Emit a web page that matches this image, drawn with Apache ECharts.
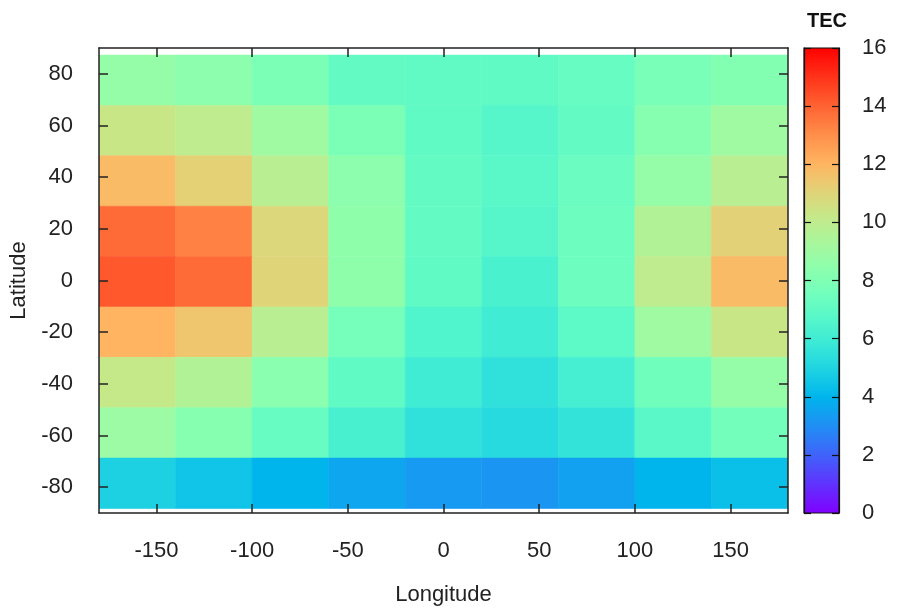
<!DOCTYPE html>
<html>
<head>
<meta charset="utf-8">
<script src="https://cdn.jsdelivr.net/npm/echarts@6/dist/echarts.min.js"></script>
<style>
    html, body { margin: 0; background: #fff; }
    #chart { width: 903px; height: 615px; }
</style>
</head>
<body>
<div id="chart"></div>
<script>
// cell centres in degrees, rows go north to south
const lons = [-160, -120, -80, -40, 0, 40, 80, 120, 160]
const lats = [77.5, 58, 38.5, 19, -0.5, -20, -39.5, -59, -78.5]
const tec = [
    [8.7, 8.4, 7.85, 7.1, 7.05, 7.0, 7.2, 7.8, 8.1],
    [10.3, 10.0, 9.0, 7.85, 7.0, 6.7, 7.1, 8.2, 9.0],
    [11.8, 11.15, 9.8, 8.4, 7.1, 6.8, 7.3, 8.7, 9.8],
    [13.8, 13.3, 10.9, 8.5, 7.1, 6.7, 7.4, 9.6, 11.1],
    [14.2, 13.8, 11.0, 8.5, 7.0, 6.3, 7.4, 10.0, 11.8],
    [12.0, 11.5, 9.8, 7.7, 6.5, 6.0, 6.9, 9.0, 10.3],
    [10.2, 9.6, 8.3, 7.0, 6.0, 5.5, 6.2, 7.5, 8.7],
    [8.9, 8.2, 7.2, 6.25, 5.5, 5.2, 5.6, 6.8, 7.6],
    [4.9, 4.5, 4.0, 3.6, 3.3, 3.2, 3.45, 4.0, 4.35]
]
const xTicks = [-150, -100, -50, 0, 50, 100, 150]
const yTicks = [-80, -60, -40, -20, 0, 20, 40, 60, 80]
const cbRange = [0, 16]

const cellW = 40
const cellH = 19.5
const font = 'Liberation Sans'
const ink = '#222'

// gnuplot rgbformulae 33,13,10
const palette = x => {
    let r = Math.min(1, Math.abs(2 * x - 0.5))
    let g = Math.max(0, Math.sin(Math.PI * x))
    let b = Math.max(0, Math.cos(Math.PI * x / 2))
    return 'rgb(' + [r, g, b].map(c => Math.round(c * 255)).join(',') + ')'
}
let steps = []
for (let i = 0; i <= 64; i++) steps.push(palette(i / 64))

let cells = []
lats.forEach((lat, i) => {
    lons.forEach((lon, j) => {
        cells.push([lon, lat, tec[i][j]])
    })
})

const frameAxis = {
    z: 5,
    axisLine: { show: true, onZero: false, lineStyle: { color: ink, width: 1.5 } },
    axisTick: { inside: true, length: 9, lineStyle: { color: ink, width: 1.5 } },
    splitLine: { show: false }
}
const barAxis = {
    z: 5,
    axisLine: { show: true, onZero: false, lineStyle: { color: '#111', width: 1.2 } },
    axisTick: { inside: true, length: 7, lineStyle: { color: '#111', width: 1.2 } },
    splitLine: { show: false }
}
const labelStyle = { color: ink, fontSize: 22, fontFamily: font }

let option = {
    backgroundColor: '#fff',
    animation: false,
    title: {
        text: 'TEC',
        left: 822,
        top: 6,
        textAlign: 'center',
        textStyle: { fontFamily: font, fontSize: 20, fontWeight: 'bold', color: '#111' }
    },
    grid: [
        { left: 99, top: 48, right: 115, bottom: 102 },
        { left: 804, top: 48, width: 35, height: 465 }
    ],
    xAxis: [
        Object.assign({}, frameAxis, {
            type: 'value', gridIndex: 0, min: -180, max: 180, position: 'bottom',
            name: 'Longitude', nameLocation: 'middle', nameGap: 71,
            nameTextStyle: labelStyle,
            axisTick: Object.assign({}, frameAxis.axisTick, { customValues: xTicks }),
            axisLabel: Object.assign({}, labelStyle, { margin: 27, customValues: xTicks })
        }),
        Object.assign({}, frameAxis, {
            type: 'value', gridIndex: 0, min: -180, max: 180, position: 'top',
            axisTick: Object.assign({}, frameAxis.axisTick, { customValues: xTicks }),
            axisLabel: { show: false }
        }),
        { type: 'value', gridIndex: 1, min: 0, max: 1, show: false }
    ],
    yAxis: [
        Object.assign({}, frameAxis, {
            type: 'value', gridIndex: 0, min: -90, max: 90, position: 'left',
            name: 'Latitude', nameLocation: 'middle', nameGap: 63,
            nameTextStyle: labelStyle,
            axisTick: Object.assign({}, frameAxis.axisTick, { customValues: yTicks }),
            axisLabel: Object.assign({}, labelStyle, { margin: 26, customValues: yTicks })
        }),
        Object.assign({}, frameAxis, {
            type: 'value', gridIndex: 0, min: -90, max: 90, position: 'right',
            axisTick: Object.assign({}, frameAxis.axisTick, { customValues: yTicks }),
            axisLabel: { show: false }
        }),
        Object.assign({}, barAxis, {
            type: 'value', gridIndex: 1, min: cbRange[0], max: cbRange[1], interval: 2, position: 'right',
            axisLabel: Object.assign({}, labelStyle, { margin: 23 })
        }),
        Object.assign({}, barAxis, {
            type: 'value', gridIndex: 1, min: cbRange[0], max: cbRange[1], interval: 2, position: 'left',
            axisLabel: { show: false }
        })
    ],
    visualMap: {
        type: 'continuous',
        show: false,
        min: cbRange[0],
        max: cbRange[1],
        dimension: 2,
        seriesIndex: 0,
        inRange: { color: steps }
    },
    series: [
        {
            type: 'custom',
            xAxisIndex: 0,
            yAxisIndex: 0,
            clip: true,
            encode: { x: 0, y: 1 },
            data: cells,
            renderItem(params, api) {
                let a = api.coord([api.value(0) - cellW / 2, api.value(1) + cellH / 2])
                let b = api.coord([api.value(0) + cellW / 2, api.value(1) - cellH / 2])
                let c = api.visual('color')
                return {
                    type: 'rect',
                    shape: { x: a[0], y: a[1], width: b[0] - a[0], height: b[1] - a[1] },
                    style: { fill: c, stroke: c, lineWidth: 0.6 }
                }
            }
        },
        {
            // colour bar
            type: 'custom',
            xAxisIndex: 2,
            yAxisIndex: 2,
            data: [[0, cbRange[0], cbRange[1]]],
            renderItem(params, api) {
                let a = api.coord([0, api.value(2)])
                let b = api.coord([1, api.value(1)])
                return {
                    type: 'rect',
                    shape: { x: a[0], y: a[1], width: b[0] - a[0], height: b[1] - a[1] },
                    style: {
                        fill: {
                            type: 'linear', x: 0, y: 1, x2: 0, y2: 0,
                            colorStops: steps.map((s, i) => ({ offset: i / (steps.length - 1), color: s }))
                        },
                        stroke: '#111',
                        lineWidth: 1.2
                    }
                }
            }
        }
    ]
}

let chart = echarts.init(document.getElementById('chart'))
chart.setOption(option)
</script>
</body>
</html>
